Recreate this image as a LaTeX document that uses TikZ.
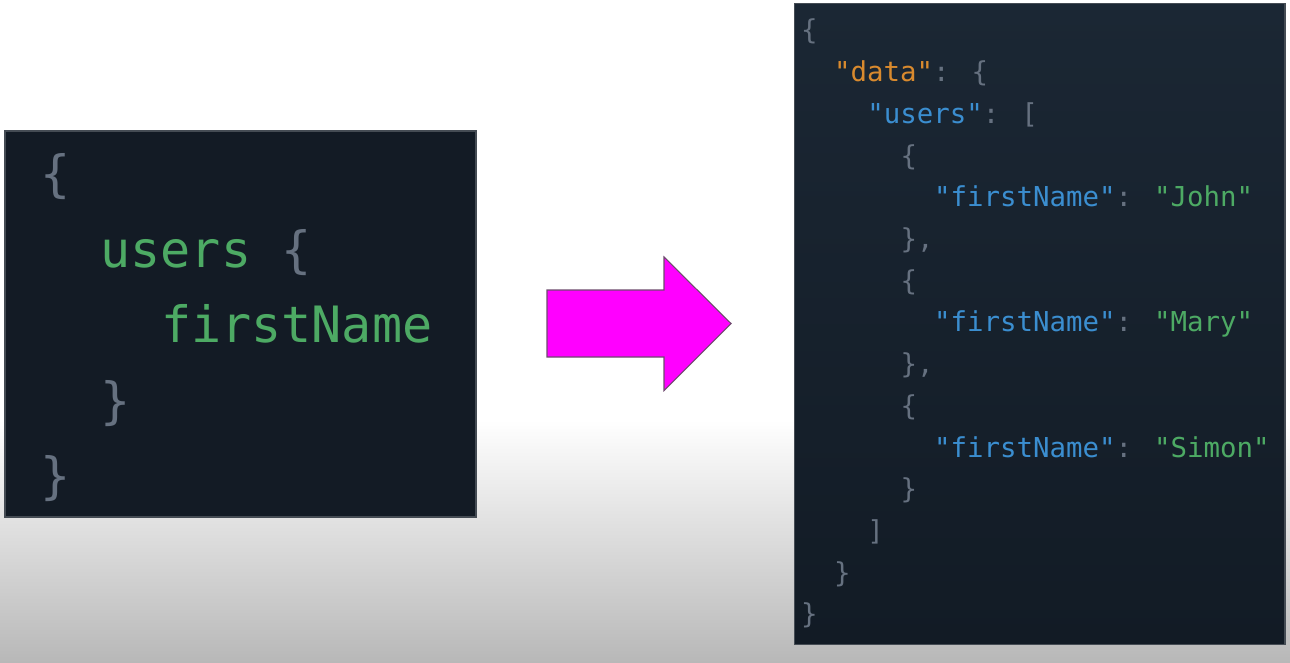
\documentclass[tikz,border=0pt]{standalone}
\usepackage{fontspec}
\newfontfamily\code{DejaVu Sans Mono}
\definecolor{bgL}{HTML}{131B25}
\definecolor{bgRt}{HTML}{1B2734}
\definecolor{bgRb}{HTML}{121B25}
\definecolor{boxedge}{HTML}{454C54}
\definecolor{punct}{HTML}{667180}
\definecolor{grn}{HTML}{4DAA64}
\definecolor{blu}{HTML}{3B8ED0}
\definecolor{org}{HTML}{D98A2E}
\definecolor{bggray}{HTML}{B8B8B8}
\definecolor{mag}{HTML}{FF00FF}
\definecolor{magedge}{HTML}{6E4A6E}
\tikzset{
  bigcode/.style={anchor=base west,inner sep=0pt,outer sep=0pt,text=punct,
    font=\code\fontsize{28.5}{30}\selectfont},
  smallcode/.style={anchor=base west,inner sep=0pt,outer sep=0pt,text=punct,
    font=\code\fontsize{15.6}{18}\selectfont},
  codebox/.style={draw=boxedge,line width=0.6pt},
}
\begin{document}
\begin{tikzpicture}[x=0.02cm,y=-0.02cm]
\useasboundingbox (0,0) rectangle (1290,662);
% background
\fill[white] (0,0) rectangle (1290,421);
\shade[top color=white,bottom color=bggray] (0,420) rectangle (1290,662);
% left box
\path[codebox,fill=bgL] (5,131) rectangle (476,517);
\node[bigcode] (l1) at (40,192) {\{};
\node[bigcode] (l2) at (100.5,267) {\textcolor{grn}{users} \{};
\node[bigcode] (l3) at (161,342) {\textcolor{grn}{firstName}};
\node[bigcode] (l4) at (100.5,418) {\}};
\node[bigcode] (l5) at (40,493) {\}};
% arrow
\draw[fill=mag,draw=magedge,line width=0.6pt,line join=miter]
  (547,290) -- (664,290) -- (664,257) -- (731,323.5) -- (664,390.5)
  -- (664,357) -- (547,357) -- cycle;
% right box
\path[codebox,top color=bgRt,bottom color=bgRb] (794.5,3.5) rectangle (1285,644.5);
\node[smallcode] (r0) at (801,40) {\{};
\node[smallcode] (r1) at (834.2,81.7) {\textcolor{org}{"data"}: \{};
\node[smallcode] (r2) at (867.4,123.4) {\textcolor{blu}{"users"}: [};
\node[smallcode] (r3) at (900.6,165.1) {\{};
\node[smallcode] (r4) at (934.2,206.8) {\textcolor{blu}{"firstName"}: \textcolor{grn}{"John"}};
\node[smallcode] (r5) at (900.6,248.5) {\},};
\node[smallcode] (r6) at (900.6,290.2) {\{};
\node[smallcode] (r7) at (934.2,331.9) {\textcolor{blu}{"firstName"}: \textcolor{grn}{"Mary"}};
\node[smallcode] (r8) at (900.6,373.6) {\},};
\node[smallcode] (r9) at (900.6,415.3) {\{};
\node[smallcode] (r10) at (934.2,457) {\textcolor{blu}{"firstName"}: \textcolor{grn}{"Simon"}};
\node[smallcode] (r11) at (900.6,498.7) {\}};
\node[smallcode] (r12) at (867.4,540.4) {]};
\node[smallcode] (r13) at (834.2,582.1) {\}};
\node[smallcode] (r14) at (801,623.8) {\}};
\end{tikzpicture}
\end{document}
